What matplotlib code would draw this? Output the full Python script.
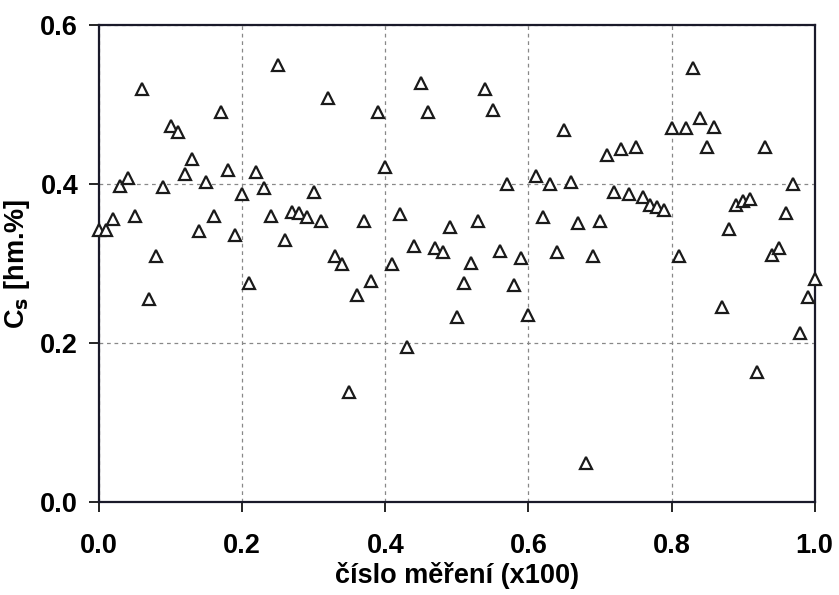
import matplotlib.pyplot as plt
import numpy as np

plt.rcParams['font.family'] = ['Liberation Sans', 'DejaVu Sans']

# measurement number (x100) and C_s values [hm.%]
mereni = np.arange(101) / 100
cs = [0.342, 0.342, 0.356, 0.397, 0.407, 0.360, 0.520, 0.255, 0.309, 0.396,
      0.473, 0.466, 0.413, 0.431, 0.341, 0.402, 0.360, 0.490, 0.418, 0.336,
      0.388, 0.275, 0.415, 0.395, 0.360, 0.550, 0.330, 0.365, 0.363, 0.359,
      0.390, 0.353, 0.508, 0.309, 0.300, 0.139, 0.260, 0.353, 0.278, 0.491,
      0.422, 0.299, 0.362, 0.195, 0.322, 0.527, 0.491, 0.319, 0.315, 0.346,
      0.233, 0.276, 0.301, 0.353, 0.519, 0.493, 0.316, 0.400, 0.273, 0.307,
      0.235, 0.410, 0.359, 0.400, 0.315, 0.468, 0.403, 0.351, 0.049, 0.309,
      0.354, 0.437, 0.390, 0.444, 0.388, 0.446, 0.384, 0.374, 0.371, 0.368,
      0.470, 0.309, 0.470, 0.546, 0.483, 0.446, 0.472, 0.245, 0.343, 0.374,
      0.379, 0.381, 0.164, 0.447, 0.311, 0.319, 0.364, 0.400, 0.213, 0.258,
      0.281]

xticks = [0.0, 0.2, 0.4, 0.6, 0.8, 1.0]
yticks = [0.0, 0.2, 0.4, 0.6]

fig = plt.figure(figsize=(8.39, 5.95), dpi=100)
ax = fig.add_axes([0.118, 0.156, 0.853, 0.802])

ax.plot(mereni, cs, linestyle='none', marker='^', markersize=8,
        markerfacecolor='white', markeredgecolor='#1a1a1a', markeredgewidth=1.6,
        clip_on=False, zorder=3)

ax.set_xlim(0, 1.0)
ax.set_ylim(0, 0.6)
ax.set_xticks(xticks)
ax.set_yticks(yticks)
ax.set_xticklabels([f'{t:.1f}' for t in xticks])
ax.set_yticklabels([f'{t:.1f}' for t in yticks])

ax.grid(True, color='#888888', linestyle=(0, (3, 3)), linewidth=0.9)
ax.set_axisbelow(True)

for s in ax.spines.values():
    s.set_linewidth(1.6)
    s.set_color('#1a1a2a')

ax.tick_params(axis='y', direction='out', length=7, width=1.2, pad=8,
               labelsize=19.5)
ax.tick_params(axis='x', direction='out', length=7, width=1.2, pad=15,
               labelsize=19.5)
for lbl in ax.get_xticklabels() + ax.get_yticklabels():
    lbl.set_fontweight('bold')

ax.set_xlabel('číslo měření (x100)', fontsize=19.5, fontweight='bold', labelpad=2)
ax.set_ylabel(r'C$_\mathbf{s}$ [hm.%]', fontsize=19.5, fontweight='bold', labelpad=6)

plt.savefig('out.png', dpi=100)
